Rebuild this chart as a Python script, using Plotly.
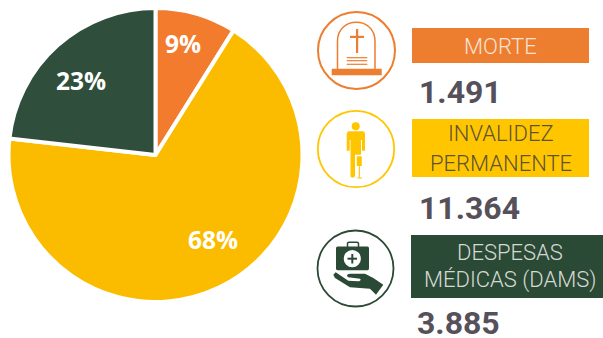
import plotly.graph_objects as go

W, H = 603, 338
categories = ["Morte", "Invalidez permanente", "Despesas médicas (DAMS)"]
values = [1491, 11364, 3885]
percent_labels = ["9%", "68%", "23%"]
value_labels = ["1.491", "11.364", "3.885"]
colors = ["#F27B2E", "#FBBC00", "#2F4F3C"]
box_colors = ["#ED7D2F", "#FFC600", "#2B4A36"]
NUM = "#56505A"


def X(v):
    return v / W


def Y(v):
    return 1 - v / H


def P(path):
    out = []
    for p in path:
        if isinstance(p, str):
            out.append(p)
        else:
            out.append(f"{X(p[0]):.5f},{Y(p[1]):.5f}")
    return " ".join(out)


shapes = []


def rect(x0, y0, x1, y1, fill, line=None, lw=0):
    shapes.append(dict(type="rect", xref="paper", yref="paper", x0=X(x0), x1=X(x1), y0=Y(y0), y1=Y(y1),
                       fillcolor=fill, line=dict(width=lw, color=line or fill)))


def circ(cx, cy, r, fill="rgba(0,0,0,0)", line=None, lw=0):
    shapes.append(dict(type="circle", xref="paper", yref="paper", x0=X(cx - r), x1=X(cx + r), y0=Y(cy - r), y1=Y(cy + r),
                       fillcolor=fill, line=dict(width=lw, color=line or fill)))


def path(pts, fill=None, line=None, lw=0):
    shapes.append(dict(type="path", xref="paper", yref="paper", path=P(pts),
                       fillcolor=fill or "rgba(0,0,0,0)", line=dict(width=lw, color=line or "rgba(0,0,0,0)")))


# Label boxes
rect(412, 28, 589, 63, box_colors[0])
rect(412, 119, 589, 177, box_colors[1])
rect(411, 235, 603, 298, box_colors[2])

# Tombstone icon
o = box_colors[0]
circ(356.5, 50.5, 38.5, line=o, lw=2)
path(["M", (337.5, 70), "L", (337.5, 41), "C", (337.5, 16), (375, 16), (375, 41), "L", (375, 70)], line=o, lw=1.5)
rect(331.7, 68.7, 381.7, 75.3, o)
rect(356, 29, 358.2, 53, o)
rect(350, 35.8, 364, 38, o)
for yy in (57.7, 60.7, 64.3):
    rect(346.7, yy - 0.6, 367.3, yy + 0.6, o)

# Person icon
y_ = box_colors[1]
circ(356, 149, 38.2, line=y_, lw=1.8)
circ(355.7, 126.3, 4, fill=y_)
path(["M", (349.5, 131.3), "L", (362.5, 131.3), "C", (364.5, 131.3), (365, 133), (365, 135), "L", (365, 150.7),
      "L", (362, 150.7), "L", (362, 140), "L", (361, 140), "L", (361, 154.7), "L", (355, 154.7), "L", (355, 176),
      "C", (354, 178), (351, 178), (350.5, 176), "L", (350.5, 140), "L", (349.7, 140), "L", (349.7, 150.7),
      "L", (346.7, 150.7), "L", (346.7, 135), "C", (346.7, 133), (347.5, 131.3), (349.5, 131.3), "Z"], fill=y_)
rect(356.8, 156.3, 361.8, 166, y_)
rect(358.8, 166, 359.9, 177.5, y_)
rect(357.5, 177.3, 361.8, 178.5, y_)

# Medical kit icon
g = box_colors[2]
circ(355.5, 268.5, 38, line=g, lw=1.8)
path(["M", (347.5, 247), "L", (347.5, 243.5), "C", (347.5, 242.5), (348, 242.3), (349, 242.3), "L", (357, 242.3),
      "C", (358, 242.3), (358.5, 242.5), (358.5, 243.5), "L", (358.5, 247)], line=g, lw=1.5)
path(["M", (338, 246.5), "L", (367, 246.5), "C", (369, 246.5), (369, 247.5), (369, 249), "L", (369, 268),
      "C", (369, 270), (368, 270.3), (367, 270.3), "L", (338, 270.3), "C", (336, 270.3), (336, 269), (336, 268),
      "L", (336, 249), "C", (336, 247.5), (336, 246.5), (338, 246.5), "Z"], fill=g)
circ(352.3, 258.7, 8.6, fill="#FFFFFF")
rect(351.3, 254, 353.3, 263.5, g)
rect(347.5, 257.7, 357, 259.7, g)
path(["M", (333.3, 274.7), "L", (335.7, 272.3), "L", (348.3, 280.7), "L", (358.3, 281.3),
      "C", (361, 281), (361, 279), (360, 278.7), "L", (348.3, 277.3), "C", (346.5, 276), (346.5, 274), (350, 273.7),
      "L", (365, 273.7), "L", (373.3, 278), "L", (383.3, 284.7), "L", (376, 294.7), "L", (370, 288.7),
      "L", (350, 287.3), "L", (335, 278), "Z"], fill=g)

FONT_PCT = "Open Sans"
FONT_BOX = "Roboto"
annotations = []


def txt(x, y, s, size, color, family, weight=400, anchor="center", **kw):
    annotations.append(dict(xref="paper", yref="paper", x=X(x), y=Y(y), text=s, showarrow=False,
                            xanchor=anchor, yanchor="middle", borderpad=0, borderwidth=0,
                            font=dict(size=size, color=color, family=family, weight=weight), **kw))


# Pie labels
txt(183, 43.5, percent_labels[0], 24.5, "#FFFFFF", FONT_PCT, 700)
txt(213, 239.5, percent_labels[1], 24.5, "#FFFFFF", FONT_PCT, 700)
txt(81, 80, percent_labels[2], 24.5, "#FFFFFF", FONT_PCT, 700)
# Box labels
txt(500, 46, "MORTE", 22, "#F7E3D3", FONT_BOX, 300)
txt(500.5, 133.5, "INVALIDEZ", 22, "#5C5334", FONT_BOX, 300)
txt(500.5, 163, "PERMANENTE", 22, "#5C5334", FONT_BOX, 300)
txt(510, 252, "DESPESAS", 22, "#D5D9D3", FONT_BOX, 300)
txt(510, 280, "MÉDICAS (DAMS)", 22, "#D5D9D3", FONT_BOX, 300)
# Values
txt(419, 92, value_labels[0], 32, NUM, FONT_BOX, 700, anchor="left")
txt(419, 208, value_labels[1], 32, NUM, FONT_BOX, 700, anchor="left")
txt(417, 323, value_labels[2], 32, NUM, FONT_BOX, 700, anchor="left", height=28)

CX, CY, R = 155.5, 155, 147
fig = go.Figure(go.Pie(
    labels=categories, values=values, sort=False, direction="clockwise", rotation=0,
    marker=dict(colors=colors, line=dict(color="#FFFFFF", width=4)),
    textinfo="none", hoverinfo="label+value",
    domain=dict(x=[X(CX - R), X(CX + R)], y=[Y(CY + R), Y(CY - R)]),
    showlegend=False,
))
fig.update_layout(width=W, height=H, margin=dict(l=0, r=0, t=0, b=0), paper_bgcolor="#FFFFFF",
                  shapes=shapes, annotations=annotations)
fig.write_html("out.html", config=dict(displayModeBar=False),
               post_script="document.body.style.margin='0';document.body.style.overflow='hidden';")
